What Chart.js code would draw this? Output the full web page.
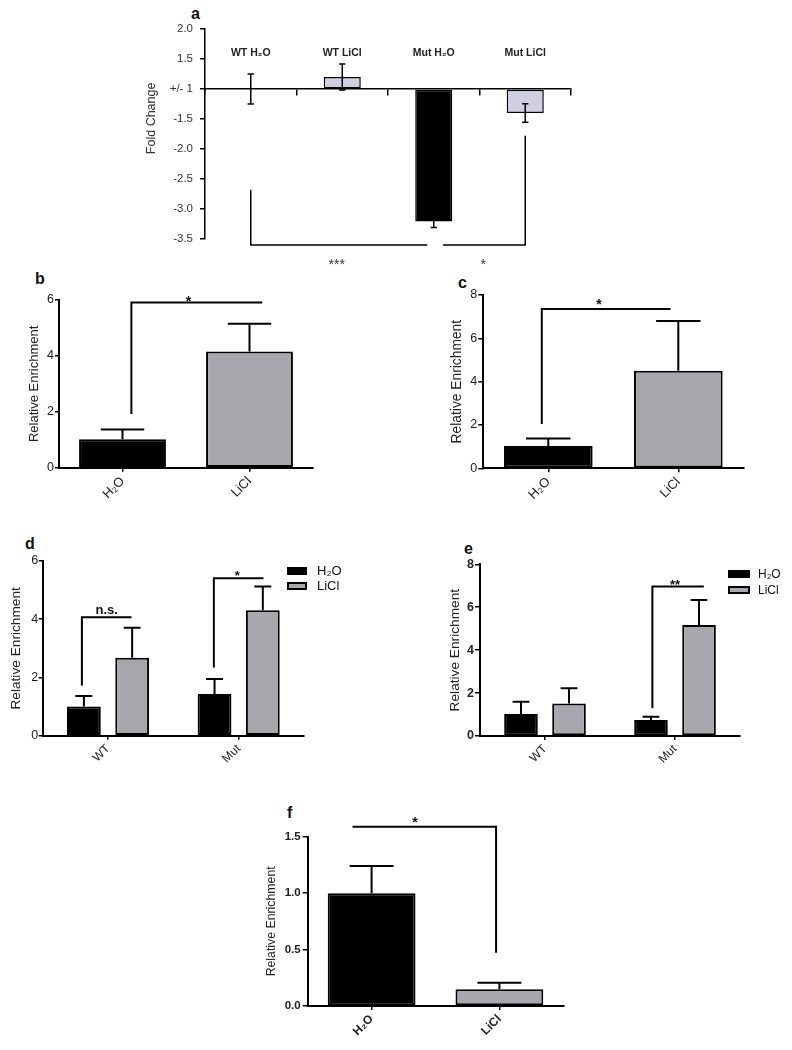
<!DOCTYPE html>
<html>
<head>
<meta charset="utf-8">
<title>Fold change and relative enrichment</title>
<script src="https://cdn.jsdelivr.net/npm/chart.js@4.4.1/dist/chart.umd.min.js"></script>
<style>
  html,body{margin:0;padding:0;background:#fff;}
  body{position:relative;width:792px;height:1050px;overflow:hidden;font-family:'Liberation Sans',Arial,sans-serif;color:#111;}
  canvas{position:absolute;}
  .pl{position:absolute;font-weight:bold;font-size:16px;line-height:16px;color:#111;}
  .lg{position:absolute;}
  .lg .it{position:absolute;left:0;white-space:nowrap;}
  .lg .box{position:absolute;left:0;box-sizing:border-box;border:2px solid #000;}
  .lg .tx{position:absolute;color:#111;}
</style>
</head>
<body>
<div class="pl" style="left:191px;top:6px;">a</div>
<div class="pl" style="left:35px;top:271px;">b</div>
<div class="pl" style="left:458px;top:275px;">c</div>
<div class="pl" style="left:25px;top:536px;">d</div>
<div class="pl" style="left:464px;top:541px;">e</div>
<div class="pl" style="left:287px;top:805px;">f</div>

<canvas id="ca" width="449" height="262" style="left:130px;top:10px"></canvas>
<canvas id="cb" width="320" height="225" style="left:0px;top:285px"></canvas>
<canvas id="cc" width="330" height="230" style="left:420px;top:280px"></canvas>
<canvas id="cd" width="312" height="230" style="left:0px;top:545px"></canvas>
<canvas id="ce" width="328" height="230" style="left:420px;top:548px"></canvas>
<canvas id="cf" width="321" height="250" style="left:250px;top:800px"></canvas>
<div class="lg" id="lgd" style="left:287px;top:567px;"></div>
<div class="lg" id="lge" style="left:728px;top:570px;"></div>

<script>
// ---------------- data ----------------
// Panel a : fold change (axis collapses +1 and -1 into "+/- 1")
const aCategories = ['WT H₂O', 'WT LiCl', 'Mut H₂O', 'Mut LiCl'];
const aFoldChange = [1.0, 1.2, -3.21, -1.40];
const aFoldError  = [0.25, 0.217, 0.10, 0.155];
const aBrackets   = [[[0, -2.68], [0, -3.6], [1.93, -3.6]],
                     [[2.1, -3.6], [3, -3.6], [3, -1.78]]];
const aMarks      = [{x: 0.94, y: -3.87, text: '***'}, {x: 2.54, y: -3.87, text: '*'}];

// Panel b
const bLabels  = ['H₂O', 'LiCl'];
const bMeans   = [1.02, 4.16];
const bSD      = [0.35, 0.99];
const bBracket = [[0.07, 1.92], [0.07, 5.91], [1.1, 5.91]];
const bMarks   = [{x: 0.52, y: 6.08, text: '*'}];

// Panel c
const cLabels  = ['H₂O', 'LiCl'];
const cMeans   = [1.03, 4.5];
const cSD      = [0.35, 2.3];
const cBracket = [[-0.05, 2.04], [-0.05, 7.35], [0.94, 7.35]];
const cMarks   = [{x: 0.39, y: 7.73, text: '*'}];

// Panel d
const dGroups   = ['WT', 'Mut'];
const dH2O      = [1.0, 1.43];
const dH2OSD    = [0.36, 0.52];
const dLiCl     = [2.68, 4.31];
const dLiClSD   = [1.03, 0.81];
const dBrackets = [[[-0.2, 1.72], [-0.2, 4.07], [0.18, 4.07]],
                   [[0.81, 2.34], [0.81, 5.41], [1.19, 5.41]]];
const dMarks    = [{x: -0.01, y: 4.3, text: 'n.s.'}, {x: 0.99, y: 5.6, text: '*'}];

// Panel e
const eGroups   = ['WT', 'Mut'];
const eH2O      = [1.02, 0.75];
const eH2OSD    = [0.58, 0.15];
const eLiCl     = [1.52, 5.17];
const eLiClSD   = [0.70, 1.17];
const eBrackets = [[[0.826, 1.29], [0.826, 6.96], [1.222, 6.96]]];
const eMarks    = [{x: 1.0, y: 7.19, text: '**'}];

// Panel f
const fLabels  = ['H₂O', 'LiCl'];
const fMeans   = [1.0, 0.148];
const fSD      = [0.24, 0.058];
const fBracket = [[-0.149, 1.588], [0.974, 1.588], [0.974, 0.472]];
const fMarks   = [{x: 0.339, y: 1.66, text: '*'}];

// ---------------- helpers ----------------
const FONT = "'Liberation Sans', Arial, sans-serif";
Chart.defaults.font.family = FONT;
Chart.defaults.color = '#222';

const GRAY = '#a7a7ad';
const LAV  = '#cfcfe2';

const toAxis = f => (f > 0 ? f - 1 : f + 1);  // fold change -> linear axis
const foldLabel = v => (Math.abs(v) < 1e-9 ? '+/- 1' : (v > 0 ? (v + 1) : (v - 1)).toFixed(1));

const annotPlugin = {
  id: 'annot',
  afterDatasetsDraw(chart, args, o) {
    const {ctx} = chart;
    const xs = chart.scales.x, ys = chart.scales.y;
    const X = v => xs.getPixelForValue(v), Y = v => ys.getPixelForValue(v);
    ctx.save();
    ctx.strokeStyle = '#000';
    chart.data.datasets.forEach((ds, di) => {
      if (!ds.errors) return;
      chart.getDatasetMeta(di).data.forEach((bar, i) => {
        const v = ds.data[i], e = ds.errors[i];
        const half = o.capRatio * bar.width / 2;
        const yHi = Y(v + e);
        const yLo = o.symmetric ? Y(v - e) : bar.y;
        ctx.lineWidth = o.errWidth;
        ctx.beginPath();
        ctx.moveTo(bar.x, yLo); ctx.lineTo(bar.x, yHi);
        ctx.moveTo(bar.x - half, yHi); ctx.lineTo(bar.x + half, yHi);
        if (o.symmetric) { ctx.moveTo(bar.x - half, yLo); ctx.lineTo(bar.x + half, yLo); }
        ctx.stroke();
      });
    });
    ctx.lineWidth = o.lineWidth;
    (o.lines || []).forEach(pts => {
      ctx.beginPath();
      pts.forEach(([x, y], k) => (k ? ctx.lineTo(X(x), Y(y)) : ctx.moveTo(X(x), Y(y))));
      ctx.stroke();
    });
    ctx.fillStyle = o.textColor;
    ctx.textAlign = 'center';
    ctx.textBaseline = 'alphabetic';
    ctx.font = `${o.textWeight} ${o.textSize}px ${FONT}`;
    (o.texts || []).forEach(t => {
      const k = /^\*+$/.test(t.text) ? 0.58 : 0.26;
      ctx.fillText(t.text, X(t.x), Y(t.y) + k * o.textSize);
    });
    ctx.restore();
  }
};
Chart.register(annotPlugin);

function enrichOptions(p) {
  return {
    responsive: false, animation: false, devicePixelRatio: 1,
    layout: {padding: p.padding},
    plugins: {
      legend: {display: false}, tooltip: {enabled: false},
      annot: {symmetric: false, capRatio: 0.5, errWidth: 2, lineWidth: 2,
              lines: p.lines, texts: p.texts, textSize: p.markSize || 14,
              textWeight: 'bold', textColor: '#111'}
    },
    scales: {
      x: {
        grid: {display: true, drawOnChartArea: false, drawTicks: true, tickLength: 4,
               offset: false, color: '#000', lineWidth: 1.5},
        border: {display: true, color: '#000', width: 2},
        ticks: {minRotation: 45, maxRotation: 45, autoSkip: false, padding: p.xPad ?? 2,
                color: '#222', font: p.xFont},
        afterFit: s => { s.height = p.xH; }
      },
      y: {
        min: 0, max: p.yMax,
        ticks: {stepSize: p.yStep, padding: p.yPad, color: '#222', font: p.yFont,
                callback: p.yCb || (v => v)},
        grid: {display: true, drawOnChartArea: false, drawTicks: true, tickLength: p.yTick,
               color: '#000', lineWidth: 1.5},
        border: {display: true, color: '#000', width: 2},
        title: {display: true, text: 'Relative Enrichment', color: '#222', font: p.titleFont,
                padding: {top: p.titlePad, bottom: 0}},
        afterFit: s => { s.width = p.yW; }
      }
    }
  };
}

function barDs(label, data, errors, color, bp, cp) {
  return {label, data, errors, backgroundColor: color, borderColor: '#000', borderWidth: 2,
          borderSkipped: false, barPercentage: bp, categoryPercentage: cp};
}

function htmlLegend(chart, el, o) {
  chart.data.datasets.forEach((ds, i) => {
    const it = document.createElement('div');
    it.className = 'it';
    it.style.top = (i * o.step) + 'px';
    const box = document.createElement('span');
    box.className = 'box';
    box.style.width = o.boxW + 'px';
    box.style.height = o.boxH + 'px';
    box.style.top = '0px';
    box.style.background = ds.backgroundColor;
    const tx = document.createElement('span');
    tx.className = 'tx';
    tx.textContent = ds.label;
    tx.style.left = o.textX + 'px';
    tx.style.fontSize = o.font + 'px';
    tx.style.lineHeight = '14px';
    tx.style.top = (o.boxH / 2 - 7) + 'px';
    it.appendChild(box); it.appendChild(tx);
    el.appendChild(it);
  });
}

// ---------------- panel a ----------------
new Chart(document.getElementById('ca'), {
  type: 'bar',
  data: {
    labels: aCategories,
    datasets: [{
      label: 'Fold change',
      data: aFoldChange.map(toAxis),
      errors: aFoldError,
      backgroundColor: [LAV, LAV, '#000', LAV],
      borderColor: '#000', borderWidth: 1.5, borderSkipped: false,
      barPercentage: 0.405, categoryPercentage: 1
    }]
  },
  options: {
    responsive: false, animation: false, devicePixelRatio: 1,
    layout: {padding: {top: 19, right: 8, bottom: 33, left: 0}},
    plugins: {
      legend: {display: false}, tooltip: {enabled: false},
      annot: {symmetric: true, capRatio: 0.17, errWidth: 1.5, lineWidth: 1.5,
              lines: aBrackets.map(l => l.map(([x, y]) => [x, toAxis(y)])),
              texts: aMarks.map(m => ({x: m.x, y: toAxis(m.y), text: m.text})),
              textSize: 14, textWeight: 'normal', textColor: '#333'}
    },
    scales: {
      x: {
        position: {y: 0},
        grid: {display: true, drawOnChartArea: false, drawTicks: true, tickLength: 6,
               offset: true, color: '#000', lineWidth: 1.5},
        border: {display: true, color: '#000', width: 1.5},
        ticks: {padding: -48.3, minRotation: 0, maxRotation: 0, autoSkip: false,
                color: '#222', font: {size: 10.5, weight: 'bold'}}
      },
      y: {
        min: -2.5, max: 1,
        ticks: {stepSize: 0.5, padding: 7, color: '#333', font: {size: 11.5}, callback: foldLabel},
        grid: {display: true, drawOnChartArea: false, drawTicks: true, tickLength: 5,
               color: '#000', lineWidth: 1.5},
        border: {display: true, color: '#000', width: 1.5},
        title: {display: true, text: '         Fold Change', color: '#333', font: {size: 12.5},
                padding: {top: 14, bottom: 0}},
        afterFit: s => { s.width = 75; }
      }
    }
  }
});

// ---------------- panel b ----------------
new Chart(document.getElementById('cb'), {
  type: 'bar',
  data: {labels: bLabels,
         datasets: [{...barDs('b', bMeans, bSD, '#000', 0.684, 1), backgroundColor: ['#000', GRAY]}]},
  options: enrichOptions({
    padding: {top: 15, right: 7, bottom: 0, left: 0}, xH: 42.3, yW: 59,
    yMax: 6, yStep: 2, yPad: 1, yTick: 4, yFont: {size: 12.5}, xFont: {size: 13},
    titleFont: {size: 13}, titlePad: 27, lines: [bBracket], texts: bMarks
  })
});

// ---------------- panel c ----------------
new Chart(document.getElementById('cc'), {
  type: 'bar',
  data: {labels: cLabels,
         datasets: [{...barDs('c', cMeans, cSD, '#000', 0.682, 1), backgroundColor: ['#000', GRAY]}]},
  options: enrichOptions({
    padding: {top: 15, right: 6.7, bottom: 0, left: 0}, xH: 41.7, yW: 63.3,
    yMax: 8, yStep: 2, yPad: 1, yTick: 5, yFont: {size: 12.5}, xFont: {size: 13},
    titleFont: {size: 13.8}, titlePad: 28.5, lines: [cBracket], texts: cMarks
  })
});

// ---------------- panel d ----------------
const chartD = new Chart(document.getElementById('cd'), {
  type: 'bar',
  data: {labels: dGroups,
         datasets: [barDs('H₂O', dH2O, dH2OSD, '#000', 0.70, 0.739),
                    barDs('LiCl', dLiCl, dLiClSD, GRAY, 0.70, 0.739)]},
  options: enrichOptions({
    padding: {top: 16, right: 8, bottom: 0, left: 0}, xH: 39.3, yW: 42.7,
    yMax: 6, yStep: 2, yPad: 0.5, yTick: 4, yFont: {size: 12.5}, xFont: {size: 12},
    titleFont: {size: 13.7}, titlePad: 8.5, lines: dBrackets, texts: dMarks, markSize: 13
  })
});
htmlLegend(chartD, document.getElementById('lgd'), {step: 15, boxW: 20, boxH: 8, textX: 30, font: 13});

// ---------------- panel e ----------------
const chartE = new Chart(document.getElementById('ce'), {
  type: 'bar',
  data: {labels: eGroups,
         datasets: [barDs('H₂O', eH2O, eH2OSD, '#000', 0.70, 0.739),
                    barDs('LiCl', eLiCl, eLiClSD, GRAY, 0.70, 0.739)]},
  options: enrichOptions({
    padding: {top: 16.3, right: 8, bottom: 0, left: 0}, xH: 42, yW: 60,
    yMax: 8, yStep: 2, yPad: 1, yTick: 5, yFont: {size: 12.5, weight: 'bold'}, xFont: {size: 12},
    titleFont: {size: 13.7}, titlePad: 27, lines: eBrackets, texts: eMarks, markSize: 13
  })
});
htmlLegend(chartE, document.getElementById('lge'), {step: 15.5, boxW: 22, boxH: 8, textX: 30, font: 12});

// ---------------- panel f ----------------
new Chart(document.getElementById('cf'), {
  type: 'bar',
  data: {labels: fLabels,
         datasets: [{...barDs('f', fMeans, fSD, '#000', 0.687, 1), backgroundColor: ['#000', GRAY]}]},
  options: enrichOptions({
    padding: {top: 36.7, right: 7.7, bottom: 0, left: 0}, xH: 44, yW: 57.7,
    yMax: 1.5, yStep: 0.5, yPad: 2, yTick: 5, yFont: {size: 11.5, weight: 'bold'},
    xFont: {size: 12, weight: 'bold'}, yCb: v => Number(v).toFixed(1),
    titleFont: {size: 12.3}, titlePad: 14.3, lines: [fBracket], texts: fMarks
  })
});
</script>
</body>
</html>
